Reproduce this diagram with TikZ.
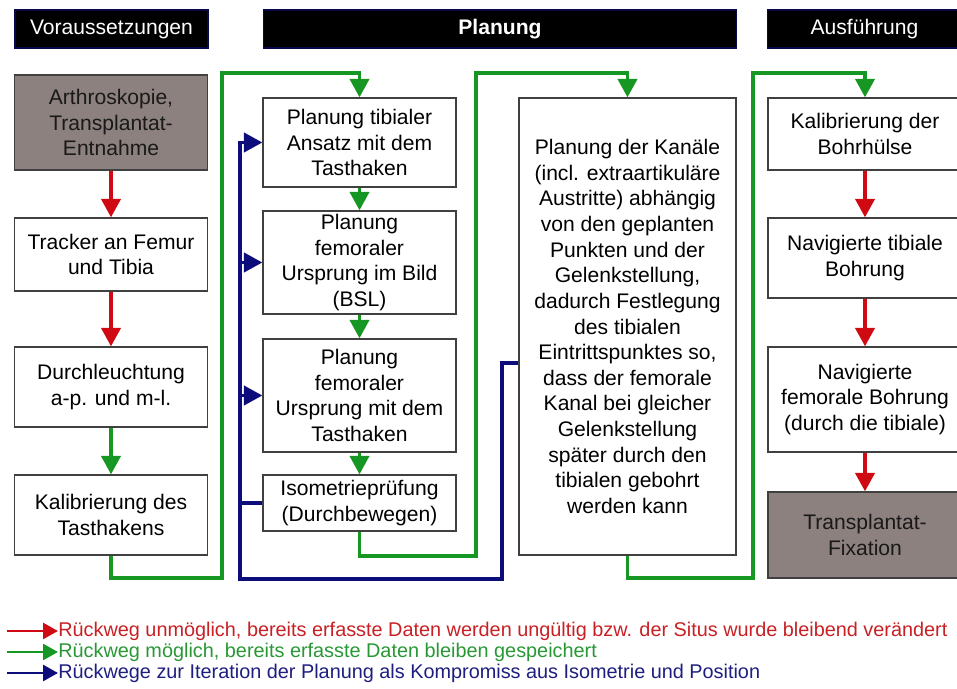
\documentclass[tikz,border=0pt]{standalone}
\usepackage{fontspec}
\setmainfont{Liberation Sans}
\usetikzlibrary{arrows.meta}
\definecolor{fwdred}{RGB}{208,10,18}
\definecolor{backgreen}{RGB}{22,150,34}
\definecolor{iterblue}{RGB}{12,12,122}
\definecolor{stonegray}{RGB}{140,129,126}
\definecolor{legred}{RGB}{200,32,36}
\definecolor{leggreen}{RGB}{40,152,52}
\definecolor{legblue}{RGB}{30,30,128}
\tikzset{
  box/.style={draw=black!75, line width=0.8pt, fill=white, align=center,
              inner sep=0pt, font=\fontsize{12}{14.6}\selectfont},
  graybox/.style={box, fill=stonegray, text=black!90},
  hdr/.style={draw=iterblue!60!black, line width=0.6pt, fill=black, text=white,
              inner sep=0pt, minimum height=0.76cm,
              font=\fontsize{12}{14}\selectfont},
  link/.style={line width=1.8pt, -{Triangle[length=10.5pt,width=11pt]}},
  fwd/.style={link, fwdred},
  back/.style={link, backgreen},
  iter/.style={link, iterblue},
  backline/.style={line width=1.8pt, backgreen},
  iterline/.style={line width=1.8pt, iterblue},
  legtext/.style={anchor=west, inner sep=0pt, font=\fontsize{11.3}{13}\selectfont},
  legarrow/.style={line width=1.7pt, -{Triangle[length=8.5pt,width=9pt]}},
}

\begin{document}
\begin{tikzpicture}[x=0.02cm, y=-0.02cm]
  \useasboundingbox (0,0) rectangle (957,689);
  \clip (0,0) rectangle (957,689);

  % headers
  \node[hdr, minimum width=3.86cm] (hvor) at (111.5,29) {Voraussetzungen};
  \node[hdr, minimum width=9.48cm, font=\fontsize{12}{14}\selectfont\bfseries] (hplan) at (500,29) {Planung};
  \node[hdr, minimum width=3.9cm] (haus) at (864.5,29) {Ausführung};

  % Voraussetzungen
  \node[graybox, minimum width=3.86cm, minimum height=1.9cm] (arth) at (111,122.5) {Arthroskopie,\\Transplantat-\\Entnahme};
  \node[box, minimum width=3.86cm, minimum height=1.46cm] (tracker) at (111,254.5) {Tracker an Femur\\und Tibia};
  \node[box, minimum width=3.86cm, minimum height=1.6cm] (durch) at (111,387) {Durchleuchtung\\a-p. und m-l.};
  \node[box, minimum width=3.86cm, minimum height=1.6cm] (kaltast) at (111,515) {Kalibrierung des\\Tasthakens};

  % Planung
  \node[box, minimum width=3.86cm, minimum height=1.78cm] (tib) at (359.5,142.5) {Planung tibialer\\Ansatz mit dem\\Tasthaken};
  \node[box, minimum width=3.86cm, minimum height=2.06cm] (fembild) at (359.5,262.5) {Planung\\femoraler\\Ursprung im Bild\\(BSL)};
  \node[box, minimum width=3.86cm, minimum height=2.26cm] (femtast) at (359.5,395.5) {Planung\\femoraler\\Ursprung mit dem\\Tasthaken};
  \node[box, minimum width=3.86cm, minimum height=1.12cm] (iso) at (359.5,503) {Isometrieprüfung\\(Durchbewegen)};
  \node[box, minimum width=4.34cm, minimum height=9.14cm] (kanal) at (627.5,326.5) {Planung der Kanäle\\(incl. extraartikuläre\\Austritte) abhängig\\von den geplanten\\Punkten und der\\Gelenkstellung,\\dadurch Festlegung\\des tibialen\\Eintrittspunktes so,\\dass der femorale\\Kanal bei gleicher\\Gelenkstellung\\später durch den\\tibialen gebohrt\\werden kann};

  % Ausfuehrung
  \node[box, minimum width=3.88cm, minimum height=1.44cm] (kalbohr) at (865,134) {Kalibrierung der\\Bohrhülse};
  \node[box, minimum width=3.88cm, minimum height=1.6cm] (navtib) at (865,258) {Navigierte tibiale\\Bohrung};
  \node[box, minimum width=3.88cm, minimum height=2.1cm] (navfem) at (865,399.5) {Navigierte\\femorale Bohrung\\(durch die tibiale)};
  \node[graybox, minimum width=3.88cm, minimum height=1.72cm] (fix) at (865,535) {Transplantat-\\Fixation};

  % channels for the loops
  \coordinate (top) at (0,73);
  \coordinate (gA) at (222,578);
  \coordinate (gB) at (476,556);
  \coordinate (gC) at (753,578);
  \coordinate (lvl) at (0,363);
  \coordinate (bJ) at (502,579);
  \coordinate (bL) at (240,579);

  % red: no way back
  \draw[fwd] (arth) -- (tracker);
  \draw[fwd] (tracker) -- (durch);
  \draw[fwd] (kalbohr) -- (navtib);
  \draw[fwd] (navtib) -- (navfem);
  \draw[fwd] (navfem) -- (fix);

  % green: way back possible
  \draw[back] (durch) -- (kaltast);
  \draw[back] (tib) -- (fembild);
  \draw[back] (fembild) -- (femtast);
  \draw[back] (femtast) -- (iso);
  \draw[back] (kaltast.south) |- (gA) -- (gA |- top) -| (tib.north);
  \draw[back] (iso.south) |- (gB) -- (gB |- top) -| (kanal.north);
  \draw[back] (kanal.south) |- (gC) -- (gC |- top) -| (kalbohr.north);

  % blue: iteration
  \draw[iter] (kanal.west |- lvl) -| (bJ) -- (bL) |- (tib.west);
  \draw[iter] (bL |- fembild.west) -- (fembild.west);
  \draw[iter] (bL |- femtast.west) -- (femtast.west);
  \draw[iterline] (iso.west) -- (bL |- iso.west);

  % legend
  \node[legtext, text=legred] (leg1) at (58,631) {Rückweg unmöglich, bereits erfasste Daten werden ungültig bzw. der Situs wurde bleibend verändert};
  \node[legtext, text=leggreen] (leg2) at (58,652) {Rückweg möglich, bereits erfasste Daten bleiben gespeichert};
  \node[legtext, text=legblue] (leg3) at (58,673) {Rückwege zur Iteration der Planung als Kompromiss aus Isometrie und Position};
  \coordinate (ls1) at (7,631);
  \coordinate (ls2) at (7,652);
  \coordinate (ls3) at (7,673);
  \draw[legarrow, fwdred] (ls1) -- (leg1.west);
  \draw[legarrow, backgreen] (ls2) -- (leg2.west);
  \draw[legarrow, iterblue] (ls3) -- (leg3.west);
\end{tikzpicture}
\end{document}
